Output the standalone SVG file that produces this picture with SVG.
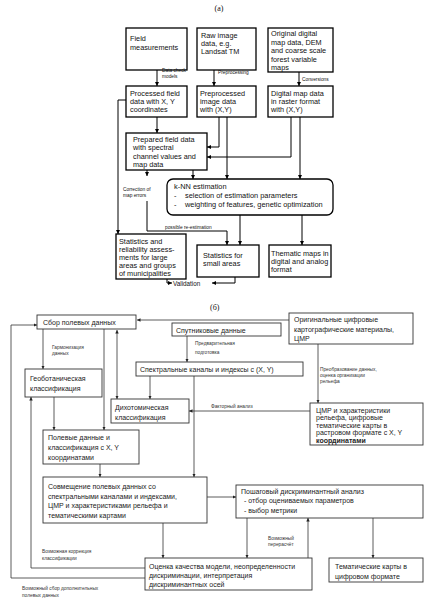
<svg xmlns="http://www.w3.org/2000/svg" width="438" height="600" viewBox="0 0 438 600">
<defs>
<marker id="ah" viewBox="0 0 10 10" refX="10" refY="5" markerWidth="4" markerHeight="4" markerUnits="userSpaceOnUse" orient="auto-start-reverse"><path d="M0,0 L10,5 L0,10 z" fill="#000"/></marker>
<marker id="bh" viewBox="0 0 10 10" refX="10" refY="5" markerWidth="3.5" markerHeight="3.5" markerUnits="userSpaceOnUse" orient="auto-start-reverse"><path d="M0,0 L10,5 L0,10 z" fill="#222"/></marker>
</defs>
<style>
text{font-family:"Liberation Sans",Arial,sans-serif;fill:#111}
.ta{font-size:7.3px}
.tk{font-size:7.4px}
.la{font-size:4.8px}
.tb{font-size:7px;fill:#222}
.lb{font-size:4.8px;fill:#333}
.ba{fill:#fff;stroke:#000;stroke-width:1.3}
.bb{fill:#fff;stroke:#333;stroke-width:0.9}
.ca{fill:none;stroke:#000;stroke-width:1}
.cb{fill:none;stroke:#333;stroke-width:0.8}
.ar{marker-end:url(#ah)}
.br{marker-end:url(#bh)}
</style>
<rect width="438" height="600" fill="#fff"/>
<text x="219" y="11" text-anchor="middle" style="font-family:'Liberation Serif',serif;font-size:8px">(a)</text>

<g id="a-field"><rect class="ba" x="126" y="28" width="61" height="42"/><text class="ta" x="130" y="41">Field</text><text class="ta" x="130" y="50">measurements</text></g>
<g id="a-raw"><rect class="ba" x="197" y="28" width="59" height="42"/><text class="ta" x="201" y="38">Raw image</text><text class="ta" x="201" y="46">data, e.g.</text><text class="ta" x="201" y="54">Landsat TM</text></g>
<g id="a-orig"><rect class="ba" x="268" y="28" width="65" height="44"/><text class="ta" x="271" y="36">Original digital</text><text class="ta" x="271" y="44.5">map data, DEM</text><text class="ta" x="271" y="53">and coarse scale</text><text class="ta" x="271" y="61.5">forest variable</text><text class="ta" x="271" y="70">maps</text></g>
<g id="a-proc"><rect class="ba" x="126" y="86" width="61" height="31"/><text class="ta" x="130" y="96">Processed field</text><text class="ta" x="130" y="104">data with X, Y</text><text class="ta" x="130" y="112">coordinates</text></g>
<g id="a-prep"><rect class="ba" x="197" y="86" width="59" height="31"/><text class="ta" x="200" y="96">Preprocessed</text><text class="ta" x="200" y="104">image data</text><text class="ta" x="200" y="112">with (X,Y)</text></g>
<g id="a-digital"><rect class="ba" x="268" y="86" width="65" height="31"/><text class="ta" x="271" y="96">Digital map data</text><text class="ta" x="271" y="104">in raster format</text><text class="ta" x="271" y="112">with (X,Y)</text></g>
<g id="a-prepared"><rect class="ba" x="126" y="133" width="81" height="37"/><text class="ta" x="133" y="142">Prepared field data</text><text class="ta" x="133" y="150">with spectral</text><text class="ta" x="133" y="158.5">channel values and</text><text class="ta" x="133" y="167">map data</text></g>
<g id="a-knn"><rect class="ba" x="167" y="179" width="166" height="36" rx="6"/><text class="tk" x="174" y="189">k-NN estimation</text><text class="tk" x="174" y="198">-</text><text class="tk" x="185" y="198">selection of estimation parameters</text><text class="tk" x="174" y="206.5">-</text><text class="tk" x="185" y="206.5">weighting of features, genetic optimization</text></g>
<g id="a-statrel"><rect class="ba" x="116" y="234" width="70" height="45"/><text class="ta" x="119" y="243.5">Statistics and</text><text class="ta" x="119" y="251.5">reliability assess-</text><text class="ta" x="119" y="259.5">ments for large</text><text class="ta" x="119" y="267.5">areas and groups</text><text class="ta" x="119" y="276">of municipalities</text></g>
<g id="a-small"><rect class="ba" x="197" y="245" width="62" height="32"/><text class="ta" x="203" y="258">Statistics for</text><text class="ta" x="203" y="266">small areas</text></g>
<g id="a-thematic"><rect class="ba" x="269" y="245" width="62" height="32"/><text class="ta" x="271" y="256">Thematic maps in</text><text class="ta" x="271" y="264">digital and analog</text><text class="ta" x="271" y="272">format</text></g>

<g id="a-connectors">
<path class="ca ar" d="M157,70 V86"/>
<path class="ca ar" d="M214,70 V86"/>
<path class="ca ar" d="M299,72 V86"/>
<path class="ca ar" d="M157,117 V133"/>
<path class="ca ar" d="M219,117 V147 H207"/>
<path class="ca ar" d="M291,117 V157 H207"/>
<path class="ca ar" d="M227,117 V179"/>
<path class="ca ar" d="M300,117 V179"/>
<path class="ca ar" d="M193,170 V179"/>
<path class="ca ar" d="M147,170 V176"/>
<path class="ca ar" d="M147,201 V231 H227 V245"/>
<path class="ca ar" d="M126,100 H118 V234"/>
<path class="ca ar" d="M240,215 V245"/>
<path class="ca ar" d="M302,215 V245"/>
<path class="ca ar" d="M167,279 V283 H172"/>
<path class="ca ar" d="M235,277 V283 H212"/>
</g>
<g id="a-labels">
<text class="la" x="162" y="72">Data check</text><text class="la" x="162" y="78">models</text>
<text class="la" x="218" y="74">Preprocessing</text>
<text class="la" x="302" y="81">Conversions</text>
<text class="la" x="123" y="191">Correction of</text><text class="la" x="123" y="197">map errors</text>
<text class="la" x="165" y="229">possible re-estimation</text>
<text class="ta" x="173" y="286" style="font-size:6.3px">Validation</text>
</g>

<text x="210" y="310" style="font-family:'Liberation Serif',serif;font-size:8px">(б)</text>

<g id="b-sbor"><rect class="bb" x="37" y="315" width="99" height="14"/><text class="tb" x="43" y="325">Сбор полевых данных</text></g>
<g id="b-sput"><rect class="bb" x="172" y="323" width="109" height="13"/><text class="tb" x="176" y="332.5">Спутниковые данные</text></g>
<g id="b-orig"><rect class="bb" x="289" y="313" width="124" height="31"/><text class="tb" x="294" y="322">Оригинальные цифровые</text><text class="tb" x="294" y="331.5">картографические материалы,</text><text class="tb" x="294" y="341">ЦМР</text></g>
<g id="b-geobot"><rect class="bb" x="25" y="369" width="77" height="28"/><text class="tb" x="30" y="381">Геоботаническая</text><text class="tb" x="30" y="391">классификация</text></g>
<g id="b-spectr"><rect class="bb" x="136" y="362" width="167" height="14"/><text class="tb" x="140" y="372">Спектральные каналы и индексы с (X, Y)</text></g>
<g id="b-dich"><rect class="bb" x="111" y="399" width="78" height="24"/><text class="tb" x="115" y="410">Дихотомическая</text><text class="tb" x="115" y="420">классификация</text></g>
<g id="b-cmr"><rect class="bb" x="310" y="403" width="113" height="42"/><text class="tb" x="316" y="413">ЦМР и характеристики</text><text class="tb" x="316" y="420.3">рельефа, цифровые</text><text class="tb" x="316" y="427.6">тематические карты в</text><text class="tb" x="316" y="435">растровом формате с X, Y</text><text class="tb" x="316" y="442.5" style="font-weight:bold">координатами</text></g>
<g id="b-polev"><rect class="bb" x="43" y="430" width="96" height="34"/><text class="tb" x="48" y="440">Полевые данные и</text><text class="tb" x="48" y="450">классификация с X, Y</text><text class="tb" x="48" y="459.5">координатами</text></g>
<g id="b-sovm"><rect class="bb" x="43" y="477" width="164" height="46"/><text class="tb" x="48" y="489">Совмещение полевых данных со</text><text class="tb" x="48" y="498.5">спектральными каналами и индексами,</text><text class="tb" x="48" y="508">ЦМР и характеристиками рельефа и</text><text class="tb" x="48" y="517.5">тематическими картами</text></g>
<g id="b-posh"><rect class="bb" x="236" y="485" width="187" height="33"/><text class="tb" x="241" y="493.5">Пошаговый дискриминантный анализ</text><text class="tb" x="244" y="503">- отбор оцениваемых параметров</text><text class="tb" x="244" y="512.5">- выбор метрики</text></g>
<g id="b-ocenka"><rect class="bb" x="145" y="558" width="167" height="32"/><text class="tb" x="149" y="569">Оценка качества модели, неопределенности</text><text class="tb" x="149" y="578">дискриминации, интерпретация</text><text class="tb" x="149" y="587">дискриминантных осей</text></g>
<g id="b-temat"><rect class="bb" x="329" y="558" width="94" height="24"/><text class="tb" x="335" y="568.5">Тематические карты в</text><text class="tb" x="335" y="578.5">цифровом формате</text></g>

<g id="b-connectors">
<path class="cb br" d="M289,320 H137"/>
<path class="cb br" d="M43,329 V369"/>
<path class="cb br" d="M187,336 V362"/>
<path class="cb br" d="M318,344 V403"/>
<path class="cb br" d="M150,376 V399"/>
<path class="cb br" d="M194,376 V477"/>
<path class="cb br" d="M117,330 V399" style="marker-start:url(#bh)"/>
<path class="cb br" d="M104,329 V430"/>
<path class="cb br" d="M54,397 V430"/>
<path class="cb br" d="M310,411 H189"/>
<path class="cb br" d="M100,464 V477"/>
<path class="cb br" d="M207,497 H236"/>
<path class="cb br" d="M163,523 V558"/>
<path class="cb br" d="M247,518 V558"/>
<path class="cb br" d="M308,558 V518"/>
<path class="cb br" d="M373,518 V558"/>
<path class="cb br" d="M145,568 H31 V397"/>
<path class="cb br" d="M145,578 H11 V325 H37"/>
</g>
<g id="b-labels">
<text class="lb" x="52" y="349">Гармонизация</text><text class="lb" x="52" y="355">данных</text>
<text class="lb" x="195" y="345">Предварительная</text><text class="lb" x="195" y="354">подготовка</text>
<text class="lb" x="320" y="371">Преобразование данных,</text><text class="lb" x="320" y="377">оценка организации</text><text class="lb" x="320" y="383">рельефа</text>
<text class="lb" x="211" y="408">Факторный анализ</text>
<text class="lb" x="268" y="540">Возможный</text><text class="lb" x="268" y="546">перерасчёт</text>
<text class="lb" x="42" y="553">Возможная коррекция</text><text class="lb" x="42" y="560">классификации</text>
<text class="lb" x="22" y="590">Возможный сбор дополнительных</text><text class="lb" x="22" y="597">полевых данных</text>
</g>
</svg>
